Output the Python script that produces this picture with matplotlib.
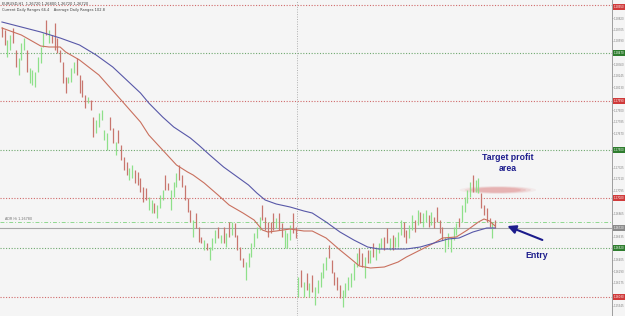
import matplotlib
matplotlib.use("Agg")
import matplotlib.pyplot as plt
import matplotlib.transforms as mtransforms
from matplotlib.patches import Ellipse

# --- данные (цены читаются с картинки) ---
bar_high = [
    1.2873, 1.2870, 1.2860, 1.2865, 1.2872, 1.2850, 1.2842, 1.2857, 1.2862, 1.2850,
    1.2832, 1.2830, 1.2828, 1.2843, 1.2853, 1.2867, 1.2880, 1.2870, 1.2865, 1.2877,
    1.2862, 1.2850, 1.2838, 1.2823, 1.2823, 1.2832, 1.2838, 1.2842, 1.2825, 1.2820,
    1.2805, 1.2803, 1.2800, 1.2783, 1.2780, 1.2787, 1.2790, 1.2770, 1.2767, 1.2783,
    1.2772, 1.2758, 1.2770, 1.2755, 1.2743, 1.2738, 1.2732, 1.2735, 1.2730, 1.2728,
    1.2722, 1.2713, 1.2712, 1.2703, 1.2700, 1.2697, 1.2695, 1.2705, 1.2710, 1.2725,
    1.2717, 1.2710, 1.2718, 1.2727, 1.2735, 1.2725, 1.2715, 1.2702, 1.2690, 1.2680,
    1.2687, 1.2673, 1.2663, 1.2660, 1.2657, 1.2653, 1.2662, 1.2670, 1.2673, 1.2665,
    1.2673, 1.2667, 1.2678, 1.2678, 1.2677, 1.2665, 1.2653, 1.2642, 1.2638, 1.2647,
    1.2657, 1.2667, 1.2673, 1.2683, 1.2695, 1.2683, 1.2678, 1.2678, 1.2687, 1.2682,
    1.2687, 1.2677, 1.2670, 1.2667, 1.2675, 1.2687, 1.2673, 1.2623, 1.2630, 1.2618,
    1.2627, 1.2617, 1.2625, 1.2613, 1.2620, 1.2628, 1.2637, 1.2643, 1.2655, 1.2640,
    1.2628, 1.2623, 1.2615, 1.2610, 1.2617, 1.2623, 1.2627, 1.2637, 1.2647, 1.2652,
    1.2647, 1.2643, 1.2650, 1.2650, 1.2657, 1.2653, 1.2657, 1.2662, 1.2663, 1.2672,
    1.2662, 1.2665, 1.2663, 1.2668, 1.2680, 1.2678, 1.2670, 1.2675, 1.2685, 1.2680,
    1.2690, 1.2688, 1.2687, 1.2690, 1.2685, 1.2688, 1.2683, 1.2693, 1.2680, 1.2673,
    1.2663, 1.2667, 1.2663, 1.2673, 1.2677, 1.2682, 1.2695, 1.2703, 1.2710, 1.2718,
    1.2725, 1.2720, 1.2722, 1.2707, 1.2695, 1.2692, 1.2682, 1.2678, 1.2680,
]
bar_low = [
    1.2863, 1.2855, 1.2843, 1.2850, 1.2857, 1.2833, 1.2825, 1.2840, 1.2850, 1.2828,
    1.2817, 1.2815, 1.2813, 1.2828, 1.2837, 1.2853, 1.2865, 1.2857, 1.2857, 1.2850,
    1.2847, 1.2838, 1.2817, 1.2807, 1.2817, 1.2818, 1.2827, 1.2825, 1.2807, 1.2803,
    1.2792, 1.2797, 1.2790, 1.2763, 1.2767, 1.2773, 1.2780, 1.2760, 1.2750, 1.2770,
    1.2757, 1.2745, 1.2757, 1.2740, 1.2730, 1.2725, 1.2720, 1.2722, 1.2717, 1.2715,
    1.2708, 1.2698, 1.2700, 1.2690, 1.2687, 1.2687, 1.2682, 1.2692, 1.2700, 1.2710,
    1.2710, 1.2690, 1.2703, 1.2713, 1.2720, 1.2713, 1.2700, 1.2688, 1.2678, 1.2663,
    1.2672, 1.2658, 1.2657, 1.2650, 1.2650, 1.2640, 1.2650, 1.2657, 1.2662, 1.2657,
    1.2657, 1.2653, 1.2663, 1.2665, 1.2663, 1.2650, 1.2640, 1.2633, 1.2620, 1.2633,
    1.2643, 1.2653, 1.2662, 1.2670, 1.2680, 1.2670, 1.2663, 1.2667, 1.2670, 1.2672,
    1.2670, 1.2663, 1.2652, 1.2652, 1.2660, 1.2667, 1.2662, 1.2603, 1.2613, 1.2603,
    1.2610, 1.2603, 1.2608, 1.2595, 1.2607, 1.2613, 1.2622, 1.2630, 1.2642, 1.2627,
    1.2615, 1.2610, 1.2602, 1.2593, 1.2603, 1.2610, 1.2613, 1.2620, 1.2633, 1.2635,
    1.2633, 1.2622, 1.2637, 1.2637, 1.2643, 1.2640, 1.2647, 1.2652, 1.2650, 1.2657,
    1.2650, 1.2650, 1.2653, 1.2653, 1.2665, 1.2663, 1.2657, 1.2662, 1.2670, 1.2668,
    1.2675, 1.2677, 1.2673, 1.2678, 1.2673, 1.2675, 1.2672, 1.2678, 1.2667, 1.2660,
    1.2648, 1.2653, 1.2648, 1.2660, 1.2665, 1.2673, 1.2678, 1.2688, 1.2697, 1.2703,
    1.2708, 1.2708, 1.2707, 1.2692, 1.2685, 1.2678, 1.2673, 1.2662, 1.2672,
]
# 1 - бычий бар (зеленый), 0 - медвежий (красный)
bar_up = [
    0, 0, 1, 1, 0, 0, 1, 1, 1, 0, 1, 1, 1, 1, 1, 1, 0, 1, 0, 0,
    0, 0, 0, 0, 1, 1, 1, 0, 0, 0, 0, 1, 0, 0, 1, 1, 1, 1, 1, 0,
    0, 1, 0, 0, 0, 0, 1, 1, 0, 0, 0, 0, 0, 1, 1, 0, 1, 1, 1, 0,
    0, 1, 1, 1, 0, 0, 0, 0, 0, 1, 0, 0, 0, 1, 0, 1, 1, 1, 0, 1,
    0, 1, 0, 1, 0, 0, 0, 0, 1, 1, 1, 1, 1, 1, 0, 0, 0, 0, 0, 1,
    0, 0, 1, 1, 1, 0, 0, 1, 0, 1, 0, 1, 0, 1, 1, 1, 1, 1, 0, 0,
    0, 0, 0, 1, 1, 1, 1, 1, 1, 0, 0, 1, 0, 1, 0, 1, 1, 1, 0, 0,
    1, 0, 1, 1, 1, 0, 0, 1, 1, 0, 1, 0, 1, 1, 0, 1, 0, 0, 0, 0,
    1, 1, 1, 1, 1, 0, 1, 1, 1, 1, 0, 1, 1, 0, 0, 0, 0, 1, 0,
]

# Скользящие средние: номер бара и значение
ma_fast_idx = [0, 7, 14, 17, 21, 23, 28, 35, 43, 50, 53, 58, 63, 67, 69, 73, 78, 82, 87, 91,
               94, 96, 99, 104, 109, 112, 117, 122, 126, 129, 133, 138, 143, 146, 151, 156,
               159, 164, 168, 172, 174, 176, 178]
ma_fast = [1.2872, 1.2865, 1.2854, 1.2853, 1.2853, 1.2848, 1.2840, 1.2825, 1.2800, 1.2778,
           1.2765, 1.2750, 1.2735, 1.2728, 1.2725, 1.2717, 1.2705, 1.2695, 1.2687, 1.2680,
           1.2670, 1.2668, 1.2669, 1.2671, 1.2669, 1.2669, 1.2662, 1.2650, 1.2641, 1.2634,
           1.2632, 1.2633, 1.2638, 1.2643, 1.2650, 1.2657, 1.2662, 1.2663, 1.2670, 1.2678,
           1.2681, 1.2679, 1.2674]
ma_slow_idx = [0, 7, 14, 21, 28, 34, 40, 45, 50, 53, 58, 62, 68, 71, 75, 80, 85, 89, 92, 95,
               99, 104, 109, 112, 117, 122, 127, 132, 136, 141, 146, 151, 156, 161, 165, 170,
               175, 178]
ma_slow = [1.2878, 1.2873, 1.2868, 1.2862, 1.2855, 1.2845, 1.2833, 1.2820, 1.2807, 1.2797,
           1.2783, 1.2773, 1.2762, 1.2755, 1.2745, 1.2733, 1.2723, 1.2715, 1.2707, 1.2700,
           1.2696, 1.2693, 1.2689, 1.2687, 1.2678, 1.2668, 1.2660, 1.2653, 1.2651, 1.2651,
           1.2651, 1.2653, 1.2657, 1.2661, 1.2662, 1.2668, 1.2672, 1.2672]

# Уровни пивотов
red_levels = [1.2895, 1.2799, 1.2702, 1.2603]
green_levels = [1.2847, 1.2750, 1.2652]
adr_level = 1.2678
current_price = 1.2672
separator_bar = 107
target_price = 1.2710
target_bars = (167, 191)

BG = "#f5f5f5"
RED = "#d06a6a"
GREEN = "#6fa86f"

fig = plt.figure(figsize=(6.25, 3.16), dpi=100, facecolor=BG)
ax = fig.add_axes([0, 0, 612 / 625, 1], facecolor=BG)
ax.set_xlim(-0.7, 220.2)
ax.set_ylim(1.2584, 1.2900)

# Горизонтальные уровни
for lvl in red_levels:
    ax.axhline(lvl, color=RED, linestyle=(0, (1, 1.5)), linewidth=0.8, zorder=1)
for lvl in green_levels:
    ax.axhline(lvl, color=GREEN, linestyle=(0, (1, 1.5)), linewidth=0.8, zorder=1)
ax.axhline(adr_level, color="#8fd88f", linestyle=(0, (4, 2, 1, 2)), linewidth=0.7, zorder=1)
ax.axhline(current_price, color="#a8a8a8", linewidth=0.8, zorder=1)
ax.axvline(separator_bar - 0.5, color="#b0b0b0", linestyle=(0, (1, 1.5)), linewidth=0.7, zorder=1)

# Бары
xs = list(range(len(bar_high)))
colors = ["#8ee08a" if u else "#c8766e" for u in bar_up]
ax.vlines(xs, bar_low, bar_high, colors=colors, linewidth=0.9, zorder=3)

# Скользящие средние
ax.plot(ma_fast_idx, ma_fast, color="#c9705e", linewidth=0.8, zorder=4)
ax.plot(ma_slow_idx, ma_slow, color="#5858a8", linewidth=0.8, zorder=4)

# Зона цели (размытая полоса)
mid = (target_bars[0] + target_bars[1]) / 2
width = target_bars[1] - target_bars[0]
for k, a in [(1.15, 0.10), (1.0, 0.18), (0.85, 0.25), (0.7, 0.3)]:
    ax.add_patch(Ellipse((mid, target_price), width * k, 0.0007 * k,
                         facecolor="#e08a8a", edgecolor="none", alpha=a, zorder=2))

ax.text(182.5, 1.2737, "Target profit\narea", ha="center", va="center",
        fontsize=6.3, fontweight="bold", color="#1c1c8c", family="Liberation Sans",
        linespacing=1.3, zorder=6)
ax.text(193, 1.2645, "Entry", ha="center", va="center",
        fontsize=6.3, fontweight="bold", color="#1c1c8c", family="Liberation Sans", zorder=6)
ax.annotate("", xy=(181.5, 1.2675), xytext=(196, 1.2659),
            arrowprops=dict(arrowstyle="-|>,head_length=0.5,head_width=0.25",
                            color="#1c1c8c", linewidth=1.5), zorder=6)

# Подписи в левом верхнем углу
ax.text(0.004, 0.993, "EURUSD,H1  1.26720 1.26800 1.26720 1.26720", transform=ax.transAxes,
        fontsize=2.6, color="#404040", va="top", ha="left")
ax.text(0.004, 0.975, "Current Daily Ranges 66.4    Average Daily Ranges 102.8", transform=ax.transAxes,
        fontsize=2.6, color="#404040", va="top", ha="left")
ax.text(1, adr_level + 0.00015, "ADR Hi 1.26780", fontsize=2.4, color="#707070", va="bottom")

# Правая ось цен: метки, не совпадающие с выделенными уровнями
marked = red_levels + green_levels + [current_price]
ticks = [1.2583 + 0.00115 * k for k in range(1, 28)]
ticks = [t for t in ticks if min(abs(t - m) for m in marked) > 0.0006]
ax.yaxis.tick_right()
ax.set_yticks(ticks)
ax.set_yticklabels([f"{t:.5f}" for t in ticks], fontsize=1.9, color="#808080")
ax.tick_params(axis="y", length=1.0, width=0.4, color="#909090", pad=0.5)
ax.set_xticks([])
for side in ["top", "bottom", "left"]:
    ax.spines[side].set_visible(False)
ax.spines["right"].set_color("#909090")
ax.spines["right"].set_linewidth(0.6)

# Маркеры уровней на оси
trans = mtransforms.blended_transform_factory(ax.transAxes, ax.transData)
for lvl, fc in ([(l, "#d03a3a") for l in red_levels] + [(l, "#2e7d2e") for l in green_levels]
                + [(current_price, "#8a8a8a")]):
    y = min(lvl, 1.2893)
    ax.text(1.002, y, f"{lvl:.5f}", transform=trans, fontsize=1.9, color="white",
            va="center", ha="left", zorder=7,
            bbox=dict(facecolor=fc, edgecolor="none", pad=0.5), clip_on=False)

fig.savefig("out.png", dpi=100, facecolor=BG)
